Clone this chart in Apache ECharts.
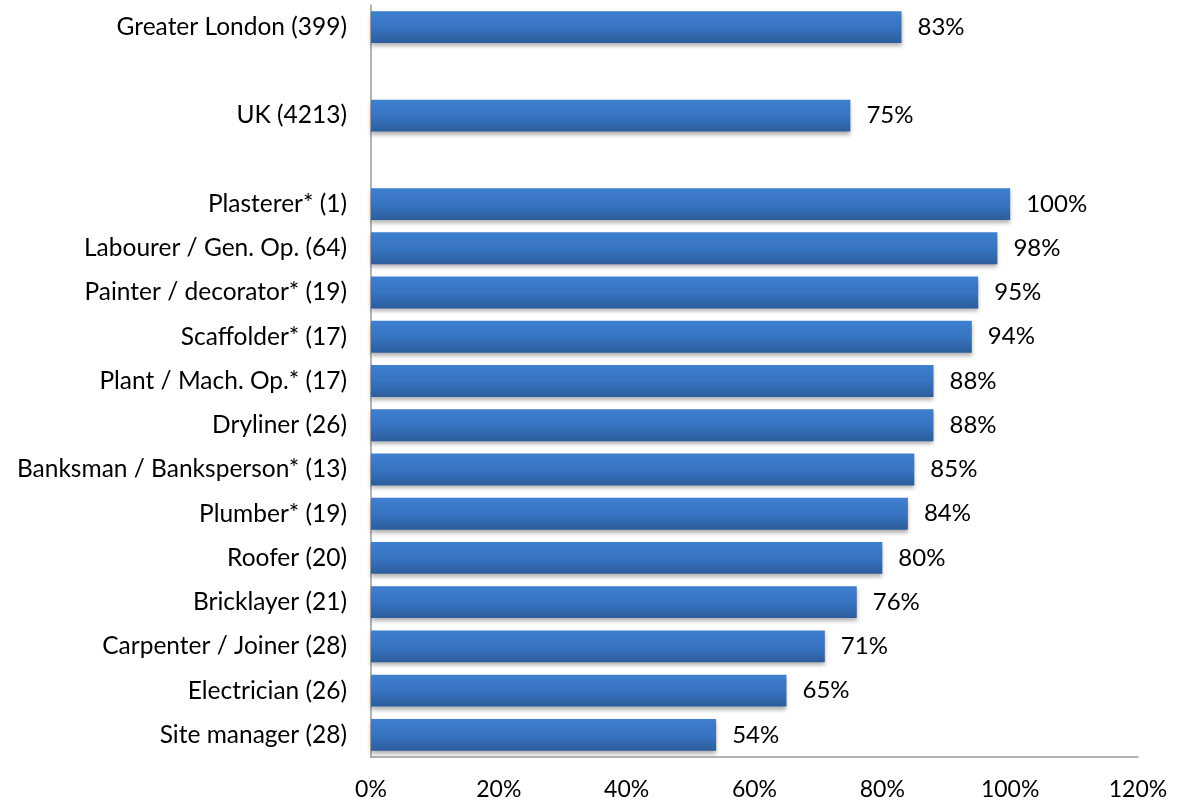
<!DOCTYPE html>
<html>
<head>
<meta charset="utf-8">
<script src="https://cdn.jsdelivr.net/npm/echarts@6/dist/echarts.min.js"></script>
<style>
  html, body { margin: 0; padding: 0; background: #fff; }
  #chart { width: 1178px; height: 805px; }
</style>
</head>
<body>
<div id="chart"></div>
<script>
// rows top to bottom, blank rows are the gaps
var categories = ['Greater London (399)', '', 'UK (4213)', ' ', 'Plasterer* (1)', 'Labourer / Gen. Op. (64)',
  'Painter / decorator* (19)', 'Scaffolder* (17)', 'Plant / Mach. Op.* (17)', 'Dryliner (26)',
  'Banksman / Banksperson* (13)', 'Plumber* (19)', 'Roofer (20)', 'Bricklayer (21)',
  'Carpenter / Joiner (28)', 'Electrician (26)', 'Site manager (28)'];
var values = [83, null, 75, null, 100, 98, 95, 94, 88, 88, 85, 84, 80, 76, 71, 65, 54];
var tickLabels = [0, 20, 40, 60, 80, 100, 120];

var chart = echarts.init(document.getElementById('chart'));
var font = 'Lato, "Open Sans", sans-serif';

chart.setOption({
  animation: false,
  grid: { left: 371, right: 40, top: 5, bottom: 48, containLabel: false },
  xAxis: {
    type: 'value',
    min: tickLabels[0],
    max: tickLabels[tickLabels.length - 1],
    interval: 20,
    axisLine: { show: true, lineStyle: { color: '#999', width: 1.5 } },
    axisTick: { show: false },
    splitLine: { show: false },
    axisLabel: { formatter: '{value}%', color: '#000', fontSize: 23, fontFamily: font, margin: 21 }
  },
  yAxis: {
    type: 'category',
    inverse: true,
    data: categories,
    axisLine: { show: true, lineStyle: { color: '#999', width: 1.5 } },
    axisTick: { show: false },
    axisLabel: { color: '#000', fontSize: 24.5, fontFamily: font, margin: 24 }
  },
  series: [{
    type: 'bar',
    data: values,
    barCategoryGap: '28%',
    itemStyle: {
      color: new echarts.graphic.LinearGradient(0, 0, 0, 1, [
        { offset: 0, color: '#3e7fcf' },
        { offset: 0.5, color: '#3774c2' },
        { offset: 1, color: '#2d5d9c' }
      ]),
      shadowColor: 'rgba(0,0,0,0.3)',
      shadowBlur: 4,
      shadowOffsetY: 3
    },
    label: {
      show: true,
      position: 'right',
      distance: 16,
      formatter: '{c}%',
      color: '#000',
      fontSize: 24,
      fontFamily: font
    }
  }]
});
</script>
</body>
</html>
